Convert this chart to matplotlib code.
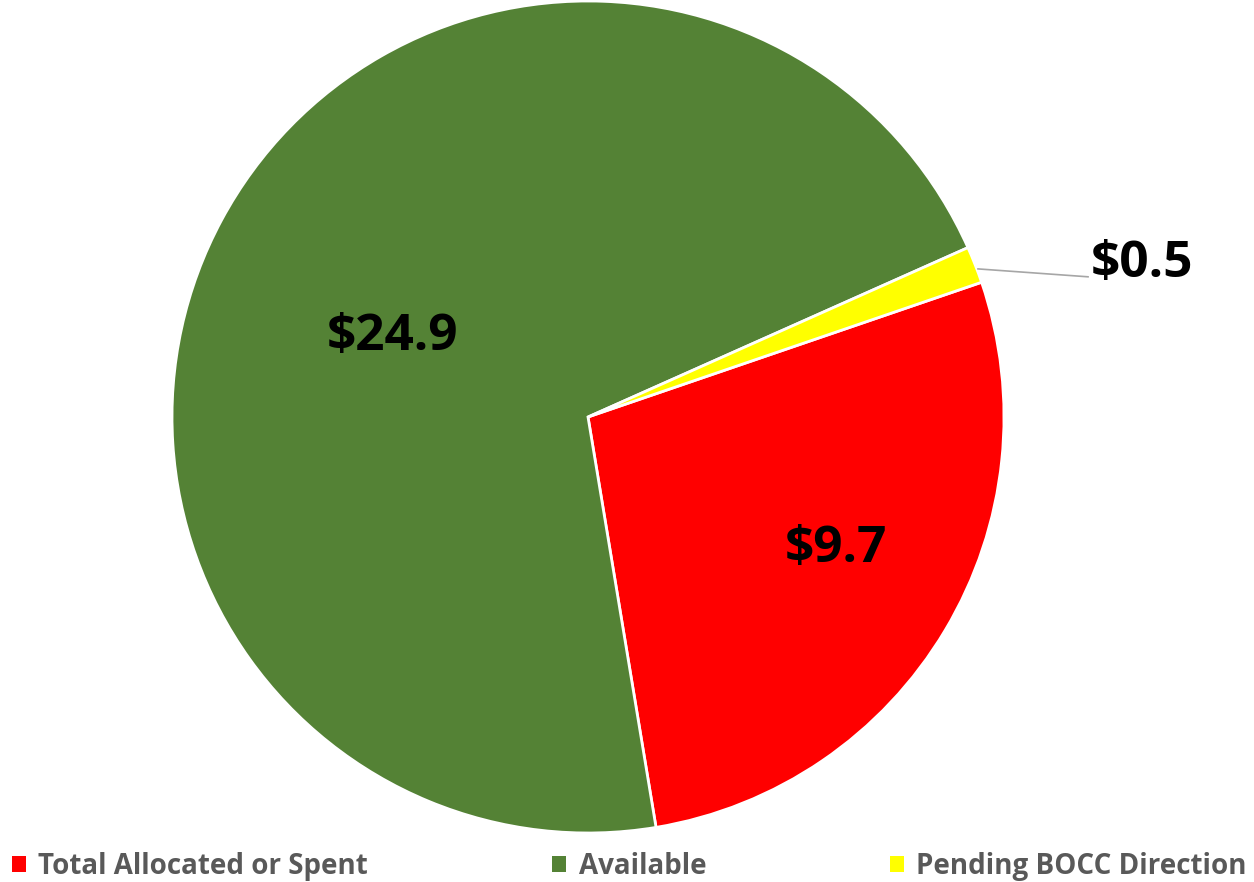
import numpy as np
import matplotlib
matplotlib.use('Agg')
import matplotlib.pyplot as plt

plt.rcParams['font.family'] = ['Open Sans', 'DejaVu Sans']

# =============================================================================
# DATA
# =============================================================================

categories = ['Total Allocated or Spent', 'Available', 'Pending BOCC Direction']
values = [9.7, 24.9, 0.5]
colors = ['#FF0000', '#548235', '#FFFF00']

# label anchor points in data units (radius = 1)
label_pos = [(0.596, -0.349), (-0.471, 0.161), (1.332, 0.337)]

# =============================================================================
# PLOT
# =============================================================================

W, H = 1254, 882
fig = plt.figure(figsize=(W / 100, H / 100), dpi=100)

cx, cy, R = 588, H - 417, 416
ax = fig.add_axes([(cx - R) / W, (cy - R) / H, 2 * R / W, 2 * R / H])

start = 18.9
wedges, _ = ax.pie(values, colors=colors, startangle=start, counterclock=False,
                   wedgeprops=dict(edgecolor='white', linewidth=2))
ax.set_xlim(-1, 1)
ax.set_ylim(-1, 1)
ax.set_aspect('equal')

for v, (x, y) in zip(values, label_pos):
    ax.text(x, y, f'${v:.1f}', ha='center', va='baseline', fontsize=37,
            fontweight='bold', color='black')

# leader line for the small slice
ax.plot([0.9375, 1.202], [0.356, 0.337], color='#A6A6A6', lw=1.2,
        clip_on=False)

leg = fig.legend(wedges, categories, loc='lower left', ncol=3, mode='expand',
                 bbox_to_anchor=(12 / W, 1 / H, (1247 - 12) / W, 30 / H),
                 frameon=False, borderpad=0, borderaxespad=0,
                 handlelength=0.5, handleheight=0.5, handletextpad=0.45,
                 prop=dict(size=20, weight='bold'))
for t in leg.get_texts():
    t.set_color('#595959')
for h in leg.legend_handles:
    h.set_edgecolor('none')

plt.savefig('out.png', dpi=100)
